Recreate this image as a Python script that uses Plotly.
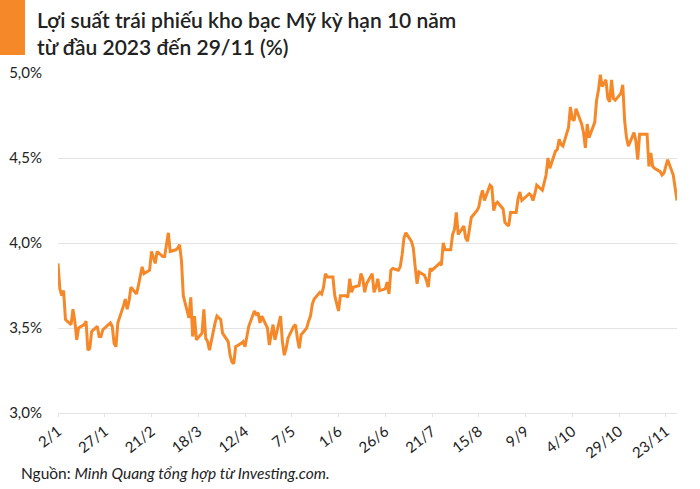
import plotly.graph_objects as go

# ---- data ----
dates = [
    "2023-01-02","2023-01-03","2023-01-04","2023-01-05","2023-01-06",
    "2023-01-09","2023-01-10","2023-01-11","2023-01-12","2023-01-13",
    "2023-01-16","2023-01-17","2023-01-18","2023-01-19","2023-01-20",
    "2023-01-23","2023-01-24","2023-01-25","2023-01-26","2023-01-27",
    "2023-01-30","2023-01-31","2023-02-01","2023-02-02","2023-02-03",
    "2023-02-06","2023-02-07","2023-02-08","2023-02-09","2023-02-10",
    "2023-02-13","2023-02-14","2023-02-15","2023-02-16","2023-02-17",
    "2023-02-20","2023-02-21","2023-02-22","2023-02-23","2023-02-24",
    "2023-02-27","2023-02-28","2023-03-01","2023-03-02","2023-03-03",
    "2023-03-06","2023-03-07","2023-03-08","2023-03-09","2023-03-10",
    "2023-03-13","2023-03-14","2023-03-15","2023-03-16","2023-03-17",
    "2023-03-20","2023-03-21","2023-03-22","2023-03-23","2023-03-24",
    "2023-03-27","2023-03-28","2023-03-29","2023-03-30","2023-03-31",
    "2023-04-03","2023-04-04","2023-04-05","2023-04-06","2023-04-07",
    "2023-04-10","2023-04-11","2023-04-12","2023-04-13","2023-04-14",
    "2023-04-17","2023-04-18","2023-04-19","2023-04-20","2023-04-21",
    "2023-04-24","2023-04-25","2023-04-26","2023-04-27","2023-04-28",
    "2023-05-01","2023-05-02","2023-05-03","2023-05-04","2023-05-05",
    "2023-05-08","2023-05-09","2023-05-10","2023-05-11","2023-05-12",
    "2023-05-15","2023-05-16","2023-05-17","2023-05-18","2023-05-19",
    "2023-05-22","2023-05-23","2023-05-24","2023-05-25","2023-05-26",
    "2023-05-29","2023-05-30","2023-05-31","2023-06-01","2023-06-02",
    "2023-06-05","2023-06-06","2023-06-07","2023-06-08","2023-06-09",
    "2023-06-12","2023-06-13","2023-06-14","2023-06-15","2023-06-16",
    "2023-06-19","2023-06-20","2023-06-21","2023-06-22","2023-06-23",
    "2023-06-26","2023-06-27","2023-06-28","2023-06-29","2023-06-30",
    "2023-07-03","2023-07-04","2023-07-05","2023-07-06","2023-07-07",
    "2023-07-10","2023-07-11","2023-07-12","2023-07-13","2023-07-14",
    "2023-07-17","2023-07-18","2023-07-19","2023-07-20","2023-07-21",
    "2023-07-24","2023-07-25","2023-07-26","2023-07-27","2023-07-28",
    "2023-07-31","2023-08-01","2023-08-02","2023-08-03","2023-08-04",
    "2023-08-07","2023-08-08","2023-08-09","2023-08-10","2023-08-11",
    "2023-08-14","2023-08-15","2023-08-16","2023-08-17","2023-08-18",
    "2023-08-21","2023-08-22","2023-08-23","2023-08-24","2023-08-25",
    "2023-08-28","2023-08-29","2023-08-30","2023-08-31","2023-09-01",
    "2023-09-04","2023-09-05","2023-09-06","2023-09-07","2023-09-08",
    "2023-09-11","2023-09-12","2023-09-13","2023-09-14","2023-09-15",
    "2023-09-18","2023-09-19","2023-09-20","2023-09-21","2023-09-22",
    "2023-09-25","2023-09-26","2023-09-27","2023-09-28","2023-09-29",
    "2023-10-02","2023-10-03","2023-10-04","2023-10-05","2023-10-06",
    "2023-10-09","2023-10-10","2023-10-11","2023-10-12","2023-10-13",
    "2023-10-16","2023-10-17","2023-10-18","2023-10-19","2023-10-20",
    "2023-10-22","2023-10-23","2023-10-24","2023-10-25","2023-10-26","2023-10-27",
    "2023-10-30","2023-10-31","2023-11-01","2023-11-02","2023-11-03",
    "2023-11-06","2023-11-07","2023-11-08","2023-11-09","2023-11-10",
    "2023-11-13","2023-11-14","2023-11-15","2023-11-16","2023-11-17",
    "2023-11-20","2023-11-21","2023-11-22","2023-11-23","2023-11-24",
    "2023-11-27","2023-11-28","2023-11-29",
]

yields = [
    3.88, 3.73, 3.69, 3.72, 3.55,
    3.52, 3.61, 3.54, 3.43, 3.50,
    3.52, 3.54, 3.37, 3.38, 3.48,
    3.51, 3.45, 3.45, 3.49, 3.50,
    3.53, 3.51, 3.41, 3.39, 3.53,
    3.63, 3.67, 3.61, 3.66, 3.74,
    3.70, 3.75, 3.81, 3.86, 3.82,
    3.84, 3.95, 3.91, 3.88, 3.95,
    3.92, 3.92, 4.00, 4.06, 3.95,
    3.96, 3.97, 3.99, 3.90, 3.69,
    3.56, 3.68, 3.45, 3.57, 3.43,
    3.47, 3.61, 3.44, 3.42, 3.37,
    3.53, 3.57, 3.56, 3.55, 3.47,
    3.42, 3.34, 3.30, 3.29, 3.39,
    3.41, 3.42, 3.39, 3.45, 3.51,
    3.60, 3.58, 3.59, 3.53, 3.57,
    3.50, 3.40, 3.45, 3.52, 3.43,
    3.57, 3.42, 3.34, 3.38, 3.44,
    3.51, 3.52, 3.44, 3.38, 3.46,
    3.50, 3.54, 3.57, 3.64, 3.67,
    3.71, 3.70, 3.74, 3.82, 3.80,
    3.80, 3.69, 3.64, 3.60, 3.69,
    3.69, 3.68, 3.79, 3.71, 3.74,
    3.75, 3.82, 3.79, 3.71, 3.76,
    3.82, 3.71, 3.74, 3.79, 3.72,
    3.73, 3.77, 3.70, 3.84, 3.85,
    3.84, 3.86, 3.93, 4.03, 4.06,
    4.01, 3.97, 3.86, 3.76, 3.83,
    3.81, 3.78, 3.74, 3.85, 3.84,
    3.87, 3.88, 3.87, 4.00, 3.96,
    3.96, 4.05, 4.08, 4.18, 4.05,
    4.10, 4.03, 4.01, 4.09, 4.15,
    4.19, 4.21, 4.27, 4.31, 4.25,
    4.34, 4.33, 4.19, 4.23, 4.24,
    4.20, 4.12, 4.11, 4.10, 4.18,
    4.18, 4.26, 4.30, 4.25, 4.26,
    4.29, 4.28, 4.25, 4.29, 4.34,
    4.31, 4.36, 4.40, 4.50, 4.44,
    4.54, 4.55, 4.61, 4.58, 4.57,
    4.68, 4.80, 4.73, 4.72, 4.79,
    4.70, 4.65, 4.56, 4.70, 4.62,
    4.71, 4.84, 4.90, 4.99, 4.92,
    4.96, 4.85, 4.83, 4.96, 4.85, 4.84,
    4.88, 4.93, 4.72, 4.62, 4.57,
    4.65, 4.60, 4.49, 4.64, 4.64,
    4.64, 4.45, 4.53, 4.45, 4.44,
    4.42, 4.40, 4.41, 4.45, 4.49,
    4.40, 4.33, 4.25,
]

x_tick_dates = ["2023-01-02","2023-01-27","2023-02-21","2023-03-18","2023-04-12",
                "2023-05-07","2023-06-01","2023-06-26","2023-07-21","2023-08-15",
                "2023-09-09","2023-10-04","2023-10-29","2023-11-23"]
x_tick_labels = ["2/1","27/1","21/2","18/3","12/4","7/5","1/6","26/6","21/7",
                 "15/8","9/9","4/10","29/10","23/11"]
y_tick_vals = [3.0, 3.5, 4.0, 4.5, 5.0]
y_tick_labels = ["3,0%", "3,5%", "4,0%", "4,5%", "5,0%"]

title_text = "Lợi suất trái phiếu kho bạc Mỹ kỳ hạn 10 năm<br>từ đầu 2023 đến 29/11 (%)"
source_prefix = "Nguồn: "
source_body = "Minh Quang tổng hợp từ Investing.com."

# ---- layout geometry (pixels) ----
W, H = 700, 489
ML, MR, MT, MB = 58, 23, 73, 76
PW, PH = W - ML - MR, H - MT - MB

def px_x(px):
    return (px - ML) / PW

def px_y(py):
    return (H - MB - py) / PH

ORANGE = "#F5892A"
TEXT = "#222222"
FONT = "Lato, 'Open Sans', sans-serif"

fig = go.Figure()
fig.add_trace(go.Scatter(
    x=dates, y=yields, mode="lines",
    line=dict(color=ORANGE, width=3),
    hoverinfo="skip", showlegend=False,
))

fig.update_layout(
    width=W, height=H,
    margin=dict(l=ML, r=MR, t=MT, b=MB, pad=0, autoexpand=False),
    paper_bgcolor="white", plot_bgcolor="white",
    font=dict(family=FONT, color=TEXT, size=15),
    showlegend=False,
    xaxis=dict(
        type="date", automargin=False,
        range=["2023-01-02", "2023-11-29"],
        tickmode="array", tickvals=x_tick_dates, ticktext=x_tick_labels,
        tickangle=-38, tickfont=dict(size=15, color=TEXT),
        showgrid=False, zeroline=False,
        showline=True, linecolor="#e3e3e3", linewidth=1,
        ticks="outside", ticklen=3, tickcolor="#e3e3e3",
    ),
    yaxis=dict(
        automargin=False,
        range=[3.0, 5.0],
        tickmode="array", tickvals=y_tick_vals, ticktext=y_tick_labels,
        tickfont=dict(size=15, color=TEXT),
        showgrid=True, gridcolor="#e3e3e3", gridwidth=1,
        zeroline=False, showline=False, ticks="",
        ticklabelstandoff=15,
    ),
    shapes=[dict(
        type="rect", xref="paper", yref="paper",
        x0=px_x(0), x1=px_x(25), y0=px_y(55), y1=px_y(0),
        fillcolor=ORANGE, line=dict(width=0), layer="above",
    )],
    annotations=[
        dict(
            text=title_text, xref="paper", yref="paper",
            x=px_x(35), y=px_y(5), xanchor="left", yanchor="top",
            align="left", showarrow=False,
            font=dict(family=FONT, size=21, color=TEXT, weight=600),
        ),
        dict(
            text=source_prefix + "<i>" + source_body + "</i>",
            xref="paper", yref="paper",
            x=px_x(19), y=px_y(473), xanchor="left", yanchor="middle",
            align="left", showarrow=False,
            font=dict(family=FONT, size=15.5, color=TEXT),
        ),
    ],
)

fig.write_html(
    "out.html",
    config={"displayModeBar": False, "staticPlot": True},
    post_script="document.body.style.margin='0';",
)
